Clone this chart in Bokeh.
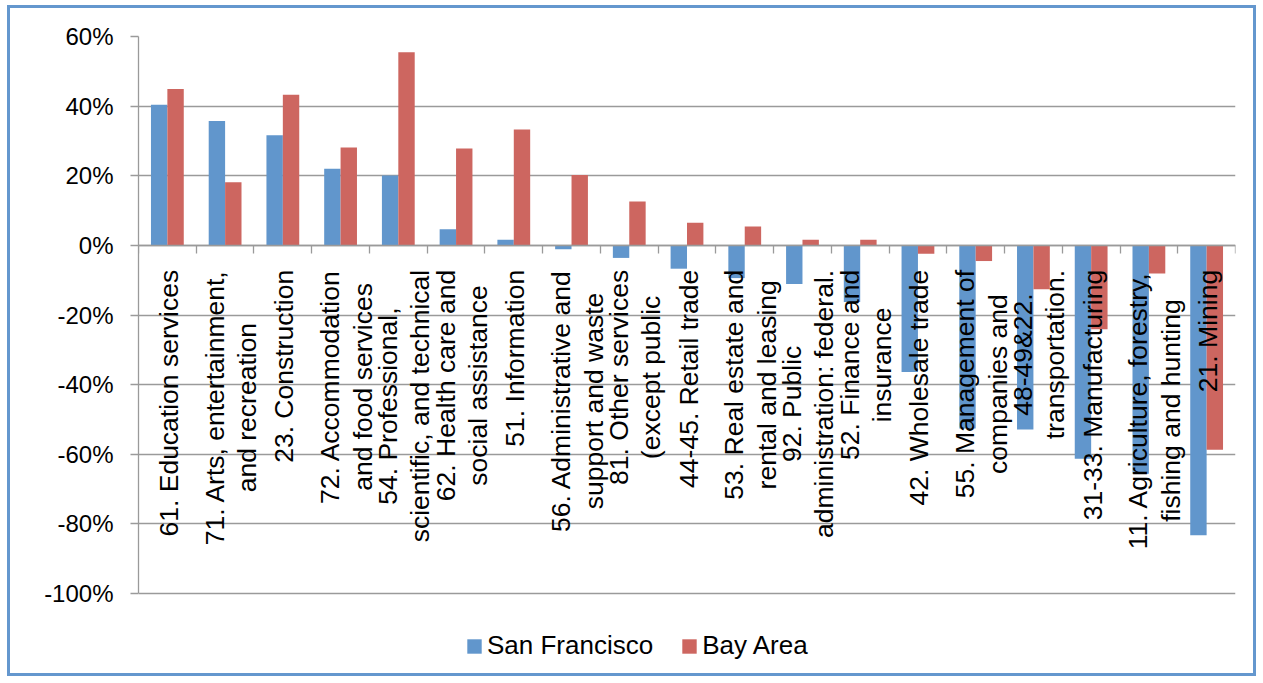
import math
from bokeh.plotting import figure
from bokeh.models import (ColumnDataSource, Range1d, FixedTicker,
                          PrintfTickFormatter, Legend, LegendItem)
from bokeh.core.properties import value
from bokeh.embed import file_html
from bokeh.resources import INLINE

# ---------------- data ----------------
categories = [
    "61. Education services",
    "71. Arts, entertainment,\nand recreation",
    "23. Construction",
    "72. Accommodation\nand food services",
    "54. Professional,\nscientific, and technical",
    "62. Health care and\nsocial assistance",
    "51. Information",
    "56. Administrative and\nsupport and waste",
    "81. Other services\n(except public",
    "44-45. Retail trade",
    "53. Real estate and\nrental and leasing",
    "92. Public\nadministration: federal.",
    "52. Finance and\ninsurance",
    "42. Wholesale trade",
    "55. Management of\ncompanies and",
    "48-49&22.\ntransportation.",
    "31-33. Manufacturing",
    "11. Agriculture, forestry,\nfishing and hunting",
    "21. Mining",
]
san_francisco = [40.4, 35.7, 31.6, 22.0, 20.1, 4.6, 1.6, -1.1, -3.6, -6.7,
                 -9.4, -11.1, -16.3, -36.4, -52.6, -52.9, -61.3, -65.6, -83.3]
bay_area = [44.9, 18.1, 43.3, 28.1, 55.5, 27.8, 33.3, 20.2, 12.6, 6.5,
            5.4, 1.6, 1.6, -2.4, -4.5, -12.6, -24.1, -8.1, -58.7]
series_names = ["San Francisco", "Bay Area"]
y_ticks = [-100, -80, -60, -40, -20, 0, 20, 40, 60]

# ---------------- styles / layout ----------------
FONT = "Liberation Sans"
BLUE = "#6196CC"
RED = "#CD6660"
GRID = "#9A9A9A"
LABEL_PX = 26.5
BAR_W = 0.284
AXIS_PX = 557          # pixel height of the -100%..60% axis span
FRAME_PX = 626         # frame also holds the legend below the axis span
Y_MIN, Y_MAX = y_ticks[0], y_ticks[-1]
y_start = Y_MAX - (Y_MAX - Y_MIN) * FRAME_PX / AXIS_PX

# approximate Arial/Liberation Sans advance widths (per 1000 em) for label layout
_W = {' ': 278, '!': 278, '&': 667, '(': 333, ')': 333, ',': 278, '-': 333, '.': 278, ':': 278,
      'A': 667, 'B': 667, 'C': 722, 'D': 722, 'E': 667, 'F': 611, 'G': 778, 'H': 722, 'I': 278,
      'J': 500, 'K': 667, 'L': 556, 'M': 833, 'N': 722, 'O': 778, 'P': 667, 'Q': 778, 'R': 722,
      'S': 667, 'T': 611, 'U': 722, 'V': 667, 'W': 944, 'X': 667, 'Y': 667, 'Z': 611,
      'a': 556, 'b': 556, 'c': 500, 'd': 556, 'e': 556, 'f': 278, 'g': 556, 'h': 556, 'i': 222,
      'j': 222, 'k': 500, 'l': 222, 'm': 833, 'n': 556, 'o': 556, 'p': 556, 'q': 556, 'r': 333,
      's': 500, 't': 278, 'u': 556, 'v': 500, 'w': 722, 'x': 500, 'y': 500, 'z': 500}


def text_width(s, px):
    return sum(_W.get(ch, 556) for ch in s) / 1000.0 * px


n = len(categories)
centers = [i + 0.5 for i in range(n)]  # category slot centres on the index axis
bars = ColumnDataSource(dict(
    cat=categories,
    x_sf=[c - BAR_W / 2 for c in centers],
    x_bay=[c + BAR_W / 2 for c in centers],
    sf=san_francisco, bay=bay_area))

p = figure(x_range=Range1d(0, n), y_range=Range1d(y_start, Y_MAX),
           width=1249, height=671,
           min_border_left=128, min_border_right=24, min_border_top=28,
           min_border_bottom=671 - 28 - FRAME_PX,
           output_backend="svg", toolbar_location=None)
p.styles = {"border": "3px solid #6497CE", "margin-left": "7px", "margin-top": "5px"}
p.outline_line_color = None
p.background_fill_color = "white"
p.border_fill_color = "white"

# y axis
ya = p.yaxis[0]
ya.bounds = (Y_MIN, Y_MAX)
ya.ticker = FixedTicker(ticks=y_ticks)
ya.formatter = PrintfTickFormatter(format="%d%%")
ya.axis_line_color = GRID
ya.axis_line_width = 1.3
ya.major_tick_line_color = GRID
ya.major_tick_line_width = 1.3
ya.major_tick_in = 0
ya.major_tick_out = 8
ya.minor_tick_line_color = None
ya.major_label_standoff = 17
ya.major_label_text_font = FONT
ya.major_label_text_font_size = "24px"
ya.major_label_text_color = "black"

p.ygrid.ticker = FixedTicker(ticks=y_ticks)
p.ygrid.grid_line_color = GRID
p.ygrid.grid_line_width = 1.3
p.xgrid.visible = False

# category axis crossing at zero, ticks at category boundaries
xa = p.xaxis[0]
xa.fixed_location = 0
xa.ticker = FixedTicker(ticks=list(range(n + 1)))
xa.axis_line_color = GRID
xa.axis_line_width = 1.3
xa.major_tick_line_color = GRID
xa.major_tick_line_width = 1.3
xa.major_tick_in = 0
xa.major_tick_out = 8
xa.minor_tick_line_color = None
xa.major_label_standoff = 0
xa.major_label_text_font_size = "0px"
xa.major_label_text_color = None

# bars
r_sf = p.vbar(x="x_sf", top="sf", width=BAR_W, source=bars, fill_color=BLUE, line_color=None)
r_bay = p.vbar(x="x_bay", top="bay", width=BAR_W, source=bars, fill_color=RED, line_color=None)

# rotated multi-line category labels
lab = dict(x=[], txt=[], y=[], xo=[], yo=[])
for c, cat in zip(centers, categories):
    lines = cat.split("\n")
    L = max(text_width(s, LABEL_PX) for s in lines)
    offs = [1.5] if len(lines) == 1 else [-10.5, 22.0]
    for s, o in zip(lines, offs):
        lab["x"].append(c)
        lab["txt"].append(s)
        lab["y"].append(0)
        lab["xo"].append(o)
        lab["yo"].append(24.5 + L / 2.0)
p.text(x="x", y="y", text="txt", x_offset="xo", y_offset="yo", angle=math.pi / 2,
       text_align="center", text_baseline="middle", text_font=value(FONT),
       text_font_size=f"{LABEL_PX}px", text_color="black", source=ColumnDataSource(lab))

legend = Legend(items=[LegendItem(label=series_names[0], renderers=[r_sf]),
                       LegendItem(label=series_names[1], renderers=[r_bay])],
                orientation="horizontal", location=(327, 1),
                label_text_font=FONT, label_text_font_size="26px", label_text_color="black",
                label_height=18, glyph_width=18, glyph_height=18, label_standoff=4, spacing=27,
                padding=0, margin=0, border_line_color=None, background_fill_alpha=0)
p.add_layout(legend, "center")

open("out.html", "w").write(file_html(p, INLINE))
